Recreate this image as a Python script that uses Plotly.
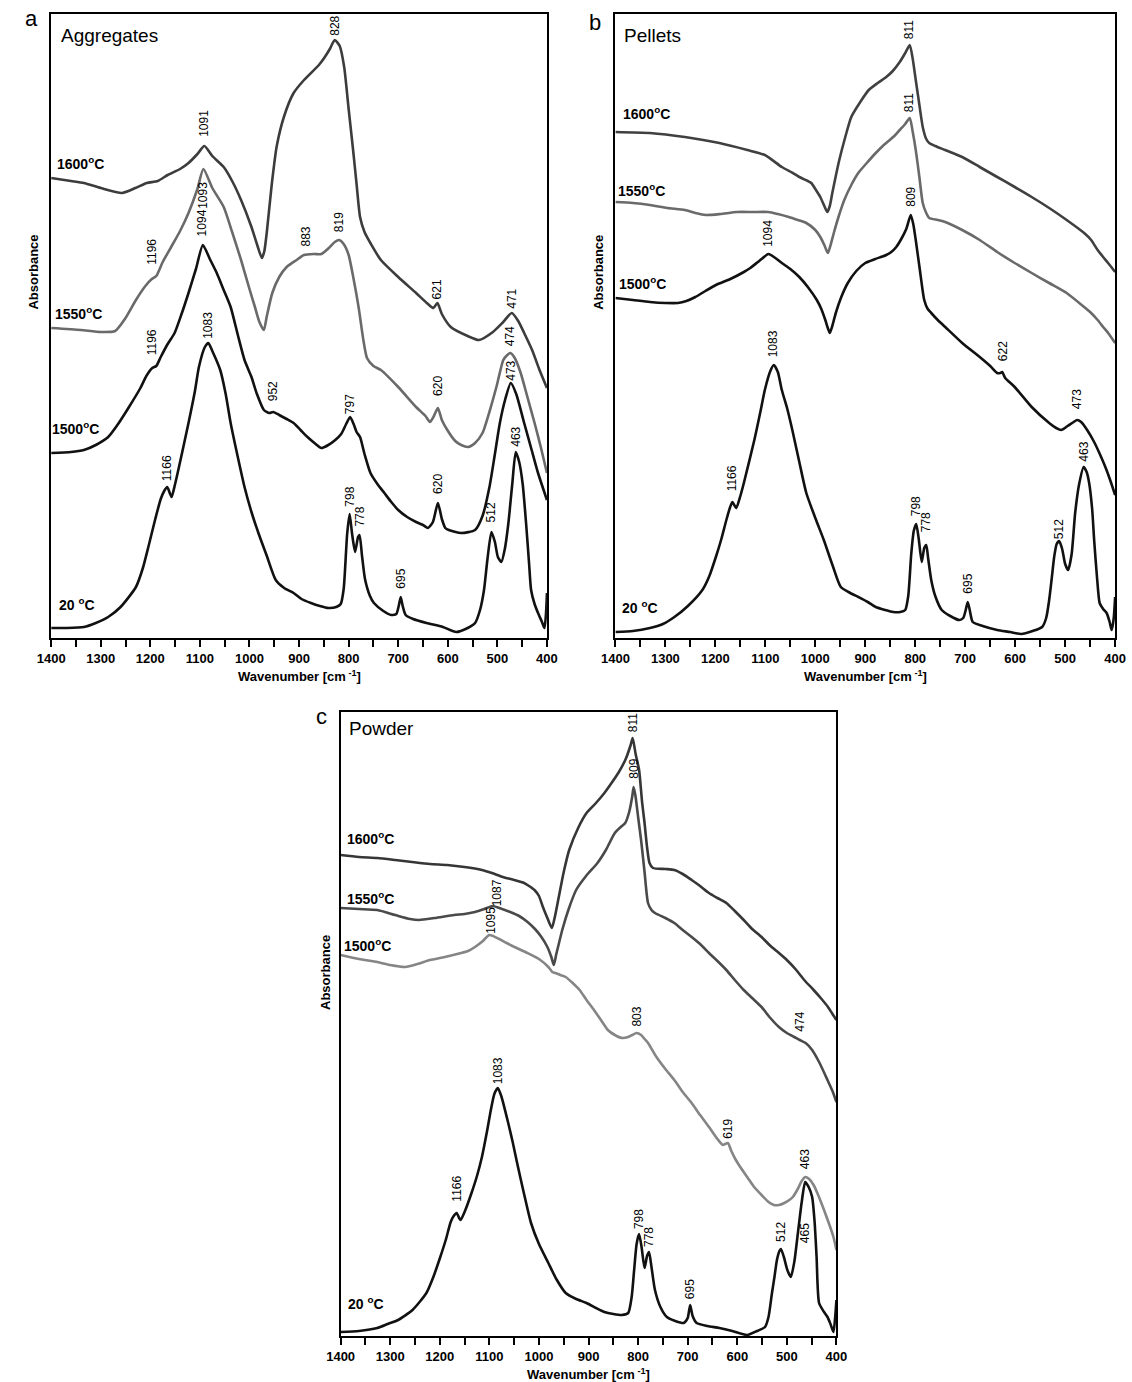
import plotly.graph_objects as go

# ---------------- Panel a : Aggregates ----------------
A_WN_1600 = [1400, 1360, 1334, 1300, 1257, 1230, 1207, 1185, 1165, 1140, 1123, 1105, 1091, 1075, 1052, 1035, 1017, 996, 985, 975, 970, 965, 955, 945, 930, 911, 890, 860, 848, 838, 828, 818, 809, 800, 791, 784, 777, 768, 755, 735, 700, 664, 640, 629, 621, 612, 594, 560, 537, 509, 490, 471, 458, 446, 430, 415, 400]
A_ABS_1600 = [456, 453, 451, 446, 441, 446, 451, 453, 459, 465, 471, 480, 488, 478, 467, 453, 434, 407, 390, 376, 383, 402, 450, 488, 518, 541, 554, 569, 577, 585, 594, 588, 567, 525, 484, 450, 417, 402, 390, 374, 357, 341, 330, 326, 331, 320, 307, 298, 294, 302, 311, 321, 313, 301, 284, 264, 246]

A_WN_1550 = [1400, 1340, 1300, 1271, 1250, 1229, 1210, 1197, 1188, 1175, 1158, 1140, 1123, 1105, 1093, 1075, 1052, 1035, 1017, 1000, 989, 980, 971, 965, 954, 940, 925, 905, 890, 870, 855, 840, 828, 819, 810, 800, 790, 780, 770, 763, 750, 735, 700, 664, 645, 636, 628, 620, 612, 601, 585, 573, 559, 545, 530, 515, 502, 488, 480, 474, 465, 453, 440, 425, 412, 400]
A_ABS_1550 = [306, 304, 302, 303, 316, 334, 348, 355, 358, 372, 387, 403, 421, 445, 465, 446, 427, 402, 374, 345, 327, 312, 304, 318, 341, 357, 367, 374, 379, 380, 380, 386, 392, 394, 390, 379, 355, 327, 293, 276, 268, 264, 247, 227, 218, 212, 218, 226, 214, 204, 193, 189, 187, 191, 201, 224, 247, 274, 279, 281, 276, 261, 238, 211, 186, 161]

A_WN_1500 = [1400, 1360, 1334, 1310, 1285, 1265, 1243, 1220, 1208, 1196, 1188, 1179, 1165, 1151, 1137, 1123, 1108, 1094, 1080, 1066, 1052, 1038, 1024, 1010, 996, 985, 971, 960, 952, 940, 925, 911, 897, 883, 869, 855, 841, 827, 815, 805, 797, 790, 784, 777, 768, 756, 742, 728, 714, 700, 682, 664, 650, 640, 630, 620, 612, 605, 598, 573, 545, 530, 516, 505, 495, 484, 473, 462, 446, 432, 418, 400]
A_ABS_1500 = [181, 182, 184, 189, 197, 210, 227, 246, 258, 266, 268, 277, 290, 301, 320, 341, 365, 389, 375, 361, 344, 327, 300, 274, 257, 240, 224, 221, 222, 219, 215, 211, 204, 197, 191, 186, 189, 194, 200, 210, 217, 210, 202, 197, 180, 161, 150, 141, 132, 124, 117, 112, 109, 106, 112, 131, 115, 106, 104, 101, 104, 118, 147, 180, 211, 235, 251, 240, 211, 186, 161, 134]

A_WN_20 = [1400, 1370, 1334, 1310, 1285, 1260, 1229, 1215, 1204, 1190, 1179, 1172, 1166, 1160, 1157, 1150, 1140, 1123, 1110, 1102, 1090, 1083, 1075, 1059, 1048, 1038, 1024, 1010, 996, 982, 965, 947, 930, 911, 895, 876, 858, 841, 825, 816, 810, 803, 798, 793, 787, 781, 778, 773, 767, 757, 749, 730, 714, 704, 699, 695, 691, 685, 670, 643, 610, 583, 560, 545, 535, 527, 520, 512, 505, 499, 492, 485, 478, 470, 463, 456, 449, 442, 436, 432, 425, 418, 410, 405, 402, 400]
A_ABS_20 = [6, 6, 7, 11, 17, 27, 47, 66, 87, 115, 135, 143, 147, 140, 137, 150, 172, 211, 243, 267, 287, 291, 283, 264, 240, 211, 178, 147, 122, 101, 78, 54, 46, 41, 35, 31, 28, 26, 27, 30, 45, 100, 120, 100, 82, 97, 99, 78, 55, 38, 31, 23, 19, 20, 28, 37, 28, 19, 15, 11, 7, 2, 6, 11, 24, 44, 75, 102, 92, 77, 72, 85, 110, 150, 182, 172, 150, 110, 70, 44, 30, 21, 12, 6, 20, 41]

# ---------------- Panel b : Pellets ----------------
B_WN_1600 = [1400, 1331, 1261, 1192, 1136, 1101, 1067, 1045, 1032, 1015, 1008, 1000, 990, 982, 976, 971, 966, 959, 952, 940, 928, 910, 893, 875, 858, 845, 831, 820, 811, 805, 799, 792, 785, 778, 772, 760, 740, 706, 671, 636, 601, 567, 532, 497, 462, 448, 435, 424, 414, 400]
B_ABS_1600 = [502, 501, 497, 491, 484, 479, 467, 461, 457, 453, 451, 445, 437, 428, 422, 428, 441, 458, 474, 497, 517, 532, 544, 551, 557, 563, 572, 581, 589, 575, 554, 530, 507, 495, 491, 488, 484, 477, 467, 457, 447, 437, 426, 414, 401, 394, 384, 377, 371, 362]

B_WN_1550 = [1400, 1365, 1331, 1296, 1261, 1240, 1219, 1190, 1157, 1125, 1094, 1075, 1053, 1035, 1018, 1000, 990, 982, 975, 970, 963, 953, 942, 928, 914, 897, 879, 865, 851, 840, 831, 820, 811, 805, 799, 792, 785, 778, 772, 755, 740, 706, 671, 636, 601, 567, 532, 497, 462, 448, 435, 424, 414, 400]
B_ABS_1550 = [432, 431, 429, 426, 424, 421, 419, 420, 422, 422, 422, 420, 417, 414, 411, 404, 397, 389, 381, 388, 401, 418, 434, 449, 461, 471, 481, 488, 494, 499, 504, 510, 516, 502, 484, 458, 431, 421, 416, 414, 412, 404, 394, 382, 371, 361, 351, 341, 327, 321, 314, 307, 301, 291]

B_WN_1500 = [1400, 1365, 1331, 1300, 1275, 1258, 1240, 1220, 1199, 1170, 1143, 1130, 1115, 1105, 1094, 1080, 1067, 1050, 1032, 1015, 997, 988, 980, 975, 971, 966, 959, 948, 935, 918, 900, 880, 858, 848, 838, 828, 818, 809, 804, 799, 791, 782, 775, 768, 755, 740, 706, 671, 650, 636, 630, 626, 620, 601, 567, 532, 518, 508, 495, 483, 476, 468, 456, 442, 428, 418, 410, 400]
B_ABS_1500 = [336, 334, 332, 331, 331, 333, 337, 343, 349, 355, 362, 366, 372, 376, 380, 376, 371, 365, 357, 347, 334, 325, 314, 306, 301, 308, 321, 337, 351, 363, 371, 375, 379, 382, 387, 395, 405, 419, 410, 394, 365, 334, 325, 321, 314, 307, 291, 277, 268, 261, 261, 262, 256, 247, 227, 211, 206, 204, 208, 212, 214, 212, 204, 192, 177, 165, 154, 139]

B_WN_20 = [1400, 1365, 1331, 1305, 1282, 1255, 1226, 1212, 1199, 1188, 1178, 1171, 1166, 1161, 1158, 1150, 1143, 1122, 1110, 1101, 1090, 1083, 1075, 1067, 1056, 1046, 1032, 1018, 1000, 983, 965, 949, 930, 914, 895, 879, 860, 844, 830, 820, 814, 808, 803, 798, 793, 787, 782, 778, 774, 768, 760, 747, 730, 712, 704, 699, 695, 691, 685, 665, 636, 610, 588, 565, 546, 538, 532, 527, 522, 517, 512, 506, 500, 494, 487, 480, 472, 463, 457, 452, 446, 442, 436, 431, 424, 417, 411, 407, 403, 400]
B_ABS_20 = [2, 3, 6, 10, 17, 28, 44, 58, 77, 95, 114, 126, 132, 128, 126, 138, 151, 194, 222, 244, 263, 269, 262, 244, 225, 204, 172, 141, 116, 94, 68, 47, 41, 37, 32, 27, 24, 22, 22, 24, 38, 80, 103, 110, 95, 72, 86, 89, 75, 54, 38, 24, 18, 14, 16, 24, 32, 24, 12, 8, 4, 2, 0, 3, 7, 16, 34, 55, 77, 90, 93, 85, 70, 64, 80, 121, 150, 167, 162, 151, 125, 94, 55, 31, 25, 21, 12, 4, 15, 37]

# ---------------- Panel c : Powder ----------------
C_WN_1600 = [1400, 1363, 1326, 1290, 1256, 1220, 1185, 1150, 1115, 1095, 1073, 1050, 1030, 1020, 1009, 1000, 992, 983, 974, 968, 960, 950, 939, 920, 904, 885, 868, 855, 840, 825, 815, 811, 805, 798, 792, 787, 782, 777, 770, 745, 727, 710, 692, 675, 657, 640, 622, 605, 587, 570, 551, 535, 516, 500, 481, 465, 446, 430, 417, 408, 400]
C_ABS_1600 = [477, 475, 474, 472, 470, 468, 467, 465, 462, 459, 455, 452, 449, 446, 442, 436, 425, 414, 404, 415, 435, 460, 482, 505, 519, 529, 539, 548, 559, 573, 587, 594, 578, 562, 530, 509, 485, 469, 464, 463, 462, 458, 452, 446, 439, 434, 429, 421, 412, 403, 395, 387, 379, 372, 362, 352, 342, 333, 325, 318, 312]

C_WN_1550 = [1400, 1363, 1326, 1290, 1260, 1242, 1210, 1171, 1150, 1129, 1110, 1093, 1080, 1058, 1040, 1023, 1008, 995, 983, 975, 970, 965, 960, 953, 940, 925, 905, 882, 865, 847, 835, 826, 818, 812, 809, 805, 800, 794, 787, 780, 773, 766, 745, 727, 710, 692, 675, 657, 640, 622, 605, 587, 570, 551, 535, 516, 500, 485, 474, 462, 449, 435, 418, 408, 400]
C_ABS_1550 = [424, 423, 422, 417, 413, 412, 414, 417, 418, 420, 423, 426, 424, 420, 416, 410, 403, 395, 385, 375, 367, 378, 388, 402, 423, 442, 456, 469, 482, 499, 505, 509, 520, 535, 545, 535, 515, 492, 460, 429, 422, 419, 414, 409, 402, 395, 388, 379, 371, 362, 352, 342, 334, 325, 315, 305, 299, 295, 292, 289, 282, 270, 252, 241, 230]

C_WN_1500 = [1400, 1363, 1326, 1300, 1270, 1245, 1220, 1190, 1157, 1143, 1129, 1113, 1100, 1080, 1065, 1045, 1023, 1000, 981, 973, 967, 957, 946, 932, 918, 904, 889, 875, 861, 847, 833, 820, 812, 803, 794, 787, 780, 763, 745, 727, 710, 692, 675, 657, 640, 629, 619, 612, 604, 594, 580, 566, 551, 537, 526, 516, 505, 495, 488, 478, 470, 463, 455, 446, 436, 425, 414, 406, 400]
C_ABS_1500 = [377, 373, 370, 367, 365, 368, 372, 375, 379, 381, 385, 391, 397, 393, 389, 384, 379, 373, 365, 360, 359, 357, 355, 349, 342, 332, 322, 312, 302, 297, 294, 295, 297, 299, 297, 293, 289, 275, 263, 252, 240, 229, 217, 205, 193, 187, 189, 181, 173, 165, 155, 145, 137, 130, 127, 127, 129, 132, 135, 143, 151, 155, 153, 147, 136, 122, 107, 95, 82]

C_WN_20 = [1400, 1363, 1326, 1305, 1284, 1255, 1227, 1213, 1199, 1188, 1178, 1172, 1166, 1161, 1158, 1150, 1136, 1125, 1115, 1105, 1097, 1090, 1083, 1076, 1062, 1053, 1044, 1030, 1016, 1000, 981, 965, 946, 925, 904, 885, 868, 850, 833, 820, 813, 808, 803, 798, 793, 787, 782, 778, 773, 766, 755, 742, 725, 708, 700, 695, 690, 682, 660, 636, 610, 580, 560, 544, 537, 530, 525, 520, 515, 512, 506, 499, 492, 485, 477, 470, 463, 456, 449, 444, 440, 435, 425, 418, 412, 406, 403, 400]
C_ABS_20 = [0, 1, 4, 8, 12, 22, 39, 55, 75, 92, 110, 116, 119, 114, 112, 120, 139, 156, 175, 200, 222, 238, 244, 236, 209, 190, 169, 138, 109, 88, 69, 53, 39, 33, 29, 24, 20, 18, 17, 19, 35, 62, 88, 98, 85, 64, 76, 80, 65, 42, 25, 15, 11, 9, 14, 27, 16, 9, 6, 4, 1, -3, 1, 5, 15, 39, 55, 72, 81, 83, 75, 62, 55, 70, 102, 130, 150, 145, 135, 110, 75, 29, 20, 15, 8, 0, 12, 32]

TEMPS = ["1600", "1550", "1500", "20"]
TEMP_TEXT = {"1600": "1600<sup>o</sup>C", "1550": "1550<sup>o</sup>C",
             "1500": "1500<sup>o</sup>C", "20": "20 <sup>o</sup>C"}

PANEL_TITLES = ["Aggregates", "Pellets", "Powder"]
PANEL_LETTERS = ["a", "b", "c"]
X_TICKS = [1400, 1300, 1200, 1100, 1000, 900, 800, 700, 600, 500, 400]

# peak labels: (text, wavenumber, series, side, gap_px)
A_PEAKS = [("828", 828, "1600", "above", 3), ("1091", 1091, "1600", "above", 8),
           ("1093", 1093, "1550", "below", 12), ("1094", 1094, "1500", "above", 8),
           ("1196", 1197, "1550", "above", 13), ("883", 887, "1550", "above", 7),
           ("819", 819, "1550", "above", 7), ("621", 621, "1600", "above", 3),
           ("471", 471, "1600", "above", 3), ("474", 474, "1550", "above", 6),
           ("1196", 1196, "1500", "above", 12), ("1083", 1083, "20", "above", 3),
           ("952", 952, "1500", "above", 10), ("797", 797, "1500", "above", 2),
           ("620", 620, "1550", "above", 11), ("473", 473, "1500", "above", 1),
           ("620", 620, "1500", "above", 8), ("463", 463, "20", "above", 4),
           ("1166", 1166, "20", "above", 5), ("798", 798, "20", "above", 6),
           ("778", 778, "20", "above", 7), ("512", 512, "20", "above", 9),
           ("695", 695, "20", "above", 7)]
B_PEAKS = [("811", 811, "1600", "above", 5), ("811", 811, "1550", "above", 5),
           ("809", 809, "1500", "above", 7), ("1094", 1094, "1500", "above", 6),
           ("1083", 1083, "20", "above", 7), ("622", 624, "1500", "above", 10),
           ("473", 476, "1500", "above", 10), ("463", 463, "20", "above", 4),
           ("1166", 1166, "20", "above", 10), ("798", 798, "20", "above", 7),
           ("778", 778, "20", "above", 12), ("512", 512, "20", "above", 1),
           ("695", 695, "20", "above", 7)]
C_PEAKS = [("811", 811, "1600", "above", 5), ("809", 809, "1550", "above", 7),
           ("1087", 1085, "1550", "above", 1), ("1095", 1098, "1500", "above", 0),
           ("803", 803, "1500", "above", 5), ("474", 474, "1550", "above", 7),
           ("1083", 1083, "20", "above", 3), ("619", 619, "1500", "above", 3),
           ("463", 463, "1500", "above", 7), ("1166", 1166, "20", "above", 10),
           ("798", 798, "20", "above", 4), ("778", 778, "20", "above", 4),
           ("512", 512, "20", "above", 6), ("465", 463, "20", "below", 40),
           ("695", 695, "20", "above", 5)]

# ---------------- layout helpers ----------------
W, H = 1132, 1382
def pxx(x):
    return x / W
def pxy(y):
    return 1 - y / H

FONT = "Liberation Sans, Arial, Helvetica, sans-serif"

panels = [
    dict(series={"1600": (A_WN_1600, A_ABS_1600), "1550": (A_WN_1550, A_ABS_1550),
                 "1500": (A_WN_1500, A_ABS_1500), "20": (A_WN_20, A_ABS_20)},
         colors={"1600": "#3c3c3c", "1550": "#6a6a6a", "1500": "#111111", "20": "#111111"},
         peaks=A_PEAKS, box=(38, 545, 14, 638), ref=634,
         temp_pos={"1600": (42, 163), "1550": (40, 313), "1500": (37, 428), "20": (44, 604)},
         letter_pos=(18, 19), title_pos=(46, 35), ylab_pos=(19, 272)),
    dict(series={"1600": (B_WN_1600, B_ABS_1600), "1550": (B_WN_1550, B_ABS_1550),
                 "1500": (B_WN_1500, B_ABS_1500), "20": (B_WN_20, B_ABS_20)},
         colors={"1600": "#404040", "1550": "#6a6a6a", "1500": "#111111", "20": "#111111"},
         peaks=B_PEAKS, box=(615, 1126, 14, 638), ref=634,
         temp_pos={"1600": (621, 113), "1550": (616, 190), "1500": (617, 283), "20": (620, 607)},
         letter_pos=(594, 22), title_pos=(622, 35), ylab_pos=(597, 272)),
    dict(series={"1600": (C_WN_1600, C_ABS_1600), "1550": (C_WN_1550, C_ABS_1550),
                 "1500": (C_WN_1500, C_ABS_1500), "20": (C_WN_20, C_ABS_20)},
         colors={"1600": "#363636", "1550": "#4a4a4a", "1500": "#858585", "20": "#111111"},
         peaks=C_PEAKS, box=(334, 841, 712, 1336), ref=1332,
         temp_pos={"1600": (338, 838), "1550": (338, 898), "1500": (335, 945), "20": (340, 1303)},
         letter_pos=(314, 716), title_pos=(341, 729), ylab_pos=(318, 972)),
]

fig = go.Figure()
annotations = []
layout_axes = {}

for i, p in enumerate(panels):
    n = "" if i == 0 else str(i + 1)
    xa, ya = "x" + n, "y" + n
    x0, x1, y0, y1 = p["box"]
    ymin = p["ref"] - y1
    ymax = p["ref"] - y0
    for t in TEMPS:
        wn, ab = p["series"][t]
        fig.add_trace(go.Scatter(
            x=wn, y=ab, mode="lines", xaxis=xa, yaxis=ya, showlegend=False,
            line=dict(color=p["colors"][t], width=2.6, shape="spline", smoothing=0.6),
            hoverinfo="skip"))
    layout_axes["xaxis" + n] = dict(
        domain=[pxx(x0), pxx(x1)], anchor=ya, range=[1400, 400],
        tickmode="array", tickvals=X_TICKS, ticktext=[str(v) for v in X_TICKS],
        ticks="outside", ticklen=7, tickwidth=2, tickcolor="black",
        minor=dict(dtick=50, tick0=0, ticks="outside", ticklen=7, tickwidth=2, tickcolor="black"),
        showline=True, linewidth=2, linecolor="black", mirror=True,
        showgrid=False, zeroline=False,
        tickfont=dict(family=FONT, size=13, color="black", weight="bold"))
    layout_axes["yaxis" + n] = dict(
        domain=[pxy(y1), pxy(y0)], anchor=xa, range=[ymin, ymax],
        showticklabels=False, ticks="", showline=True, linewidth=2,
        linecolor="black", mirror=True, showgrid=False, zeroline=False)

    # temperature labels
    for t in TEMPS:
        tx, ty = p["temp_pos"][t]
        annotations.append(dict(text=TEMP_TEXT[t], x=pxx(tx), y=pxy(ty), xref="paper", yref="paper",
                                xanchor="left", yanchor="middle", showarrow=False,
                                font=dict(family=FONT, size=14, color="black", weight="bold")))
    # peak labels
    for text, wpos, key, side, gap in p["peaks"]:
        wn, ab = p["series"][key]
        j = min(range(len(wn)), key=lambda k: abs(wn[k] - wpos))
        yv = ab[j]
        annotations.append(dict(text=text, x=wpos, y=yv, xref=xa, yref=ya, textangle=-90,
                                xanchor="center", yanchor="bottom" if side == "above" else "top",
                                yshift=gap if side == "above" else -gap, showarrow=False,
                                borderpad=0,
                                font=dict(family=FONT, size=12, color="black")))
    # panel letter, title, axis titles
    lx, ly = p["letter_pos"]
    annotations.append(dict(text=PANEL_LETTERS[i], x=pxx(lx), y=pxy(ly), xref="paper", yref="paper",
                            xanchor="center", yanchor="middle", showarrow=False,
                            font=dict(family=FONT, size=22, color="black")))
    tx, ty = p["title_pos"]
    annotations.append(dict(text=PANEL_TITLES[i], x=pxx(tx), y=pxy(ty), xref="paper", yref="paper",
                            xanchor="left", yanchor="middle", showarrow=False,
                            font=dict(family=FONT, size=19, color="black")))
    ax_, ay_ = p["ylab_pos"]
    annotations.append(dict(text="Absorbance", x=pxx(ax_), y=pxy(ay_), xref="paper", yref="paper",
                            xanchor="center", yanchor="middle", textangle=-90, showarrow=False,
                            font=dict(family=FONT, size=13, color="black", weight="bold")))
    annotations.append(dict(text="Wavenumber [cm<sup> -1</sup>]", x=pxx((x0 + x1) / 2),
                            y=pxy(y1 + 38), xref="paper", yref="paper",
                            xanchor="center", yanchor="middle", showarrow=False,
                            font=dict(family=FONT, size=13, color="black", weight="bold")))

fig.update_layout(width=W, height=H, margin=dict(l=0, r=0, t=0, b=0),
                  paper_bgcolor="white", plot_bgcolor="white", showlegend=False,
                  annotations=annotations, **layout_axes)

fig.write_html("out.html")
